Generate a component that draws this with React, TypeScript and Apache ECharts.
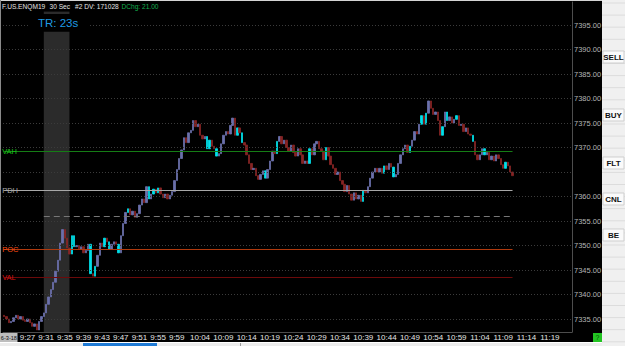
import React, { useEffect, useRef } from 'react';
import * as echarts from 'echarts';

// ---------- data ----------
const firstOpen = 7335.75;
const closes: number[] = [
  7335.5, 7335, 7334.25, 7334.5, 7335.25, 7335.75, 7335, 7335.5, 7334.75, 7334.5,
  7335, 7334.25, 7333.5, 7334, 7332.75, 7334.5, 7335.5, 7336.25, 7338, 7339.5,
  7341, 7342.5, 7344.75, 7347, 7350.5, 7353.25, 7351.5, 7349.5, 7348.25, 7352,
  7349.75, 7350, 7349.25, 7349.75, 7348.5, 7349, 7350.25, 7344.25, 7343.75, 7345.75,
  7348, 7350.5, 7349.75, 7351.5, 7350.75, 7349.25, 7350.25, 7350.75, 7350.25, 7348.5,
  7352, 7354.5, 7356.75, 7357.5, 7356.25, 7357, 7355.75, 7356.5, 7358.25, 7359.5,
  7358.75, 7362, 7359.5, 7360.5, 7361.5, 7360.75, 7361.75, 7360.5, 7359.75, 7360.5,
  7359.5, 7360.25, 7361, 7363.25, 7365.5, 7367.75, 7369.5, 7372, 7371, 7373,
  7373.5, 7375.5, 7374.25, 7374.75, 7372.5, 7371.75, 7372.25, 7369.75, 7371.5, 7370.25,
  7369.75, 7368.25, 7368.75, 7370.75, 7372.5, 7373.25, 7372.75, 7374.5, 7376, 7372.5,
  7374, 7373, 7371, 7370.5, 7368.5, 7366.75, 7365.5, 7365.75, 7364.25, 7363.5,
  7364.5, 7365.25, 7363.75, 7365.5, 7367.25, 7369.25, 7368.75, 7371.25, 7372.25, 7370.75,
  7371.5, 7370, 7369.25, 7370.5, 7369, 7368.25, 7369.75, 7368.5, 7366.75, 7367.25,
  7366.75, 7369.75, 7368.5, 7370.75, 7371.25, 7369.75, 7369.25, 7367.5, 7370, 7368.25,
  7366.5, 7365.75, 7364.5, 7365, 7363.25, 7362.5, 7361, 7362.25, 7360.5, 7359.25,
  7360.75, 7359.5, 7360.25, 7359, 7361.25, 7360.75, 7362, 7363.75, 7365, 7365.75,
  7365, 7365.75, 7364.75, 7366.25, 7365.5, 7366.75, 7366, 7364, 7364.5, 7366.75,
  7368.5, 7369.75, 7370.5, 7369, 7370.25, 7371.5, 7373.25, 7372.75, 7374.75, 7376.5,
  7374.75, 7377, 7379.5, 7378, 7376.75, 7377.25, 7375.5, 7372.5, 7374.25, 7377.25,
  7375.5, 7376.25, 7375, 7375.75, 7376.5, 7374.5, 7374.75, 7373.25, 7374, 7372.75,
  7372.5, 7371.25, 7368.5, 7367.5, 7368.5, 7369.75, 7368.5, 7369, 7367.5, 7368.25,
  7367.25, 7368.5, 7367.75, 7366.5, 7365.75, 7367, 7366.25, 7365, 7364.25,
];
// bars drawn in the bright (cyan / red) highlight colour
const brightBars: number[] = [
  29, 30, 37, 39, 43, 45, 49, 53, 62, 64, 66, 87, 88, 91, 100, 102, 112, 117,
  131, 138, 154, 163, 167, 174, 179, 181, 188, 190, 194, 201, 206, 215,
];
const startHour = 9;
const startMin = 22;
const barCount = 244; // 30-second bars on the time axis
const timeLabels: string[] = [
  '9:27', '9:31', '9:35', '9:39', '9:43', '9:47', '9:51', '9:55', '9:59',
  '10:04', '10:09', '10:14', '10:19', '10:24', '10:29', '10:34', '10:39', '10:44',
  '10:49', '10:54', '10:59', '11:04', '11:09', '11:14', '11:19',
];
const dateLabel = '6-3-18';
const priceTicks: number[] = [7335, 7340, 7345, 7350, 7355, 7360, 7365, 7370, 7375, 7380, 7385, 7390, 7395];
const levelNames: string[] = ['VAH', 'PDH', '', 'POC', 'VAL'];
const levelValues: number[] = [7369.25, 7361.25, 7356.0, 7349.25, 7343.5];
const levelStartBar: number[] = [0, 0, 17, 0, 0];
const openingRangeBars: number[] = [17, 28];
const headerParts: string[] = ['F.US.ENQM19', '30 Sec', '#2 DV: 171028', 'DChg: 21.00'];
const timerText = 'TR: 23s';
const buttons: string[] = ['SELL', 'BUY', 'FLT', 'CNL', 'BE'];

// ---------- styles ----------
const FONT = '"Liberation Sans", Arial, sans-serif';
const UP = '#6b70ab';
const DOWN = '#862424';
const UP_BRIGHT = '#00e0ea';
const DOWN_BRIGHT = '#ff1414';
const levelColors = ['#157d15', '#a8a8a8', '#777777', '#b03a0e', '#6c0a0a'];
const levelLabelColors = ['#18c818', '#a8a8a8', '#777777', '#ff4d12', '#d81212'];
const levelTypes: any[] = ['solid', 'solid', [6, 4], 'solid', 'solid'];
const Y_MAX = 7399.694;
const Y_MIN = 7332.347;
const headerX = [2, 49.5, 75, 121.5];
const headerColors = ['#e4e4e4', '#e4e4e4', '#e4e4e4', '#12b04e'];
const buttonY = [57, 115, 163, 199, 235];

const categories: string[] = Array.from({ length: barCount }, (_, i) => {
  const m = startHour * 60 + startMin + Math.floor(i / 2);
  const s = `${Math.floor(m / 60)}:${String(m % 60).padStart(2, '0')}`;
  return i % 2 ? `${s}:30` : s;
});
const timeLabelSet = new Set(timeLabels);

const candles = closes.map((c, i) => {
  const o = i === 0 ? firstOpen : closes[i - 1];
  const item: any = { value: [o, c, Math.min(o, c), Math.max(o, c)] };
  if (brightBars.includes(i)) {
    item.itemStyle = {
      color: UP_BRIGHT, color0: DOWN_BRIGHT, borderColor: UP_BRIGHT, borderColor0: DOWN_BRIGHT,
    };
  }
  return item;
});
const lastIdx = closes.length - 1;
const lastClose = closes[lastIdx];
// the current-price box hides the tick label it would cover
const priceLabelTicks = priceTicks.filter((v) => Math.abs(v - lastClose) > 1.5);

function buildGraphic() {
  const g: any[] = [];
  // borders
  g.push({ type: 'rect', z: 100, shape: { x: 0, y: 0, width: 602, height: 1 }, style: { fill: '#d4d4d4' } });
  g.push({ type: 'rect', z: 100, shape: { x: 0, y: 0, width: 1, height: 342 }, style: { fill: '#8a8a8a' } });
  // header background and text
  g.push({ type: 'rect', z: 90, shape: { x: 1, y: 1, width: 170, height: 10.5 }, style: { fill: '#000' } });
  headerParts.forEach((t, k) => {
    g.push({
      type: 'text', z: 101, x: headerX[k], y: 6.5,
      style: { text: t, fill: headerColors[k], fontSize: 6.6, fontFamily: FONT, verticalAlign: 'middle', align: 'left' },
    });
  });
  // timer
  g.push({ type: 'rect', z: 90, shape: { x: 30, y: 14, width: 60, height: 17.7 }, style: { fill: '#000' } });
  g.push({
    type: 'text', z: 101, x: 38, y: 23,
    style: { text: timerText, fill: '#1f9be4', fontSize: 11.5, fontFamily: FONT, verticalAlign: 'middle', align: 'left' },
  });
  // date label box
  g.push({ type: 'rect', z: 100, shape: { x: 0, y: 333, width: 17.5, height: 9 }, style: { fill: '#bdbdbd' } });
  g.push({
    type: 'text', z: 101, x: 0.8, y: 337.6,
    style: { text: dateLabel, fill: '#111', fontSize: 5.6, fontFamily: FONT, verticalAlign: 'middle', align: 'left' },
  });
  // right panel
  g.push({ type: 'rect', z: 100, shape: { x: 602, y: 0, width: 23, height: 346 }, style: { fill: '#f0f0f0' } });
  for (let k = 0; k < 29; k++) {
    const y = 3 + k * 12.1;
    g.push({ type: 'line', z: 101, shape: { x1: 602, y1: y, x2: 625, y2: y }, style: { stroke: '#dcdcdc', lineWidth: 1 } });
  }
  buttons.forEach((b, k) => {
    g.push({
      type: 'rect', z: 102, shape: { x: 603, y: buttonY[k] - 6, width: 21, height: 12 },
      style: { fill: '#fafafa', stroke: '#cfcfcf', lineWidth: 1 },
    });
    g.push({
      type: 'text', z: 103, x: 613.5, y: buttonY[k],
      style: { text: b, fill: '#111', fontSize: 8, fontWeight: 'bold', fontFamily: FONT, align: 'center', verticalAlign: 'middle' },
    });
  });
  // bottom strip
  g.push({ type: 'rect', z: 100, shape: { x: 0, y: 342, width: 602, height: 4 }, style: { fill: '#ececec' } });
  g.push({ type: 'rect', z: 101, shape: { x: 0, y: 342, width: 602, height: 1 }, style: { fill: '#ffffff' } });
  g.push({ type: 'rect', z: 102, shape: { x: 83, y: 343, width: 74, height: 3 }, style: { fill: '#1f7bd6' } });
  g.push({ type: 'rect', z: 102, shape: { x: 240, y: 343, width: 1, height: 3 }, style: { fill: '#9a9a9a' } });
  // status square
  g.push({ type: 'rect', z: 101, shape: { x: 593, y: 333, width: 9, height: 9 }, style: { fill: '#22c422' } });
  g.push({
    type: 'text', z: 102, x: 597.5, y: 337.5,
    style: { text: '?', fill: '#0a4a0a', fontSize: 7, fontFamily: FONT, align: 'center', verticalAlign: 'middle' },
  });
  return g;
}

const option: any = {
  animation: false,
  backgroundColor: '#000000',
  grid: { left: 3, right: 53, top: 2, bottom: 14 },
  xAxis: {
    type: 'category',
    data: categories,
    boundaryGap: true,
    axisLine: { show: true, lineStyle: { color: '#4d4d4d', width: 1 } },
    axisTick: { show: false },
    splitLine: { show: false },
    axisLabel: {
      interval: (_i: number, v: string) => timeLabelSet.has(v),
      color: '#e4e4e4', fontSize: 8, fontFamily: FONT, margin: 1.5,
    },
  },
  yAxis: {
    type: 'value',
    position: 'right',
    min: Y_MIN,
    max: Y_MAX,
    axisLine: { show: true, lineStyle: { color: '#4d4d4d', width: 1 } },
    axisTick: { show: false },
    splitLine: { show: false },
    axisLabel: {
      customValues: priceLabelTicks,
      formatter: (v: number) => v.toFixed(2),
      color: '#b4b4b4', fontSize: 7.5, fontFamily: FONT, margin: 2, align: 'left',
    },
  },
  graphic: buildGraphic(),
  series: [
    {
      type: 'line', data: [], z: 1, silent: true, symbol: 'none',
      markArea: {
        silent: true,
        itemStyle: { color: '#2b2b2b' },
        data: [[
          { xAxis: categories[openingRangeBars[0]], yAxis: Y_MAX - 1.9 },
          { xAxis: categories[openingRangeBars[1]], yAxis: Y_MIN },
        ]],
      },
      markLine: {
        silent: true, symbol: ['none', 'none'], label: { show: false },
        lineStyle: { color: '#3b3b3b', type: [1, 2], width: 1 },
        data: priceTicks.map((v) => ({ yAxis: v })),
      },
    },
    {
      type: 'candlestick', data: candles, z: 2, silent: true, barWidth: 1.9,
      itemStyle: { color: UP, color0: DOWN, borderColor: UP, borderColor0: DOWN, borderWidth: 0.8 },
    },
    {
      type: 'line', data: [], z: 3, silent: true, symbol: 'none',
      markLine: {
        silent: true, symbol: ['none', 'none'],
        data: [
          ...levelValues.map((v, k) => [
            {
              coord: [categories[levelStartBar[k]], v],
              lineStyle: { color: levelColors[k], type: levelTypes[k], width: 1 },
              label: {
                show: levelNames[k] !== '', position: 'insideStart', formatter: levelNames[k],
                color: levelLabelColors[k], fontSize: 7.5, fontFamily: FONT, distance: [-2, 0],
              },
            },
            { coord: [categories[lastIdx], v] },
          ]),
          {
            yAxis: lastClose,
            lineStyle: { opacity: 0 },
            label: {
              show: true, position: 'end', formatter: () => lastClose.toFixed(2),
              color: '#1a1a1a', backgroundColor: '#a9a9a9', padding: [1, 1, 1, 1],
              fontSize: 7.5, fontFamily: FONT, distance: 1,
            },
          },
        ],
      },
    },
  ],
};

export default function App() {
  const ref = useRef<HTMLDivElement>(null);
  useEffect(() => {
    if (!ref.current) return;
    const chart = echarts.init(ref.current, null, { renderer: 'svg' });
    chart.setOption(option);
    return () => chart.dispose();
  }, []);
  return <div ref={ref} style={{ position: 'fixed', left: 0, top: 0, width: 625, height: 346 }} />;
}
